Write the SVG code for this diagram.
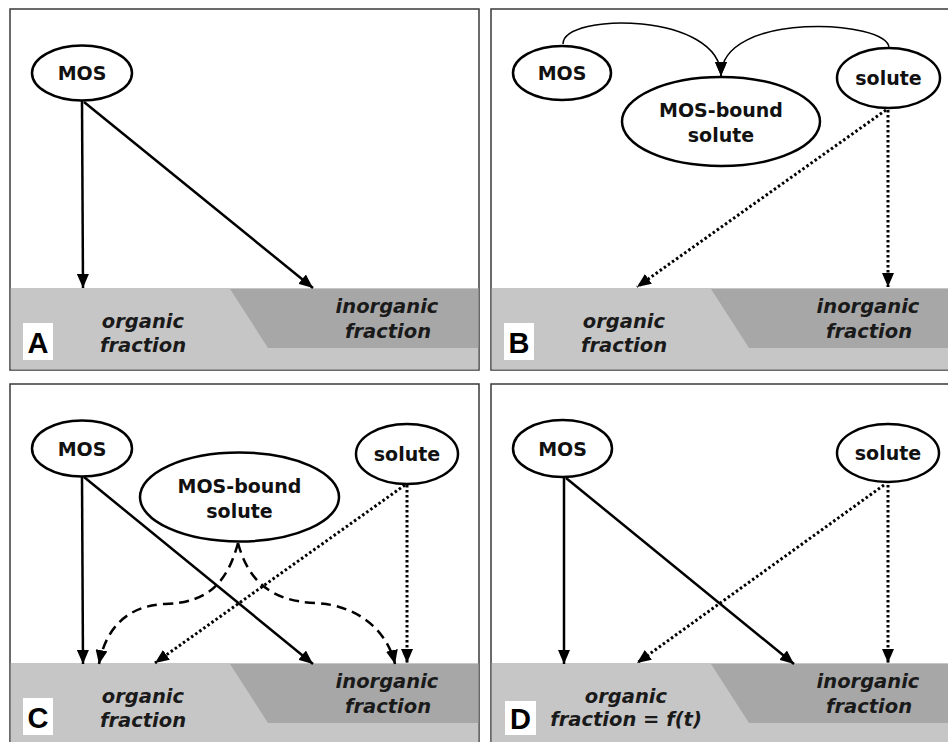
<svg xmlns="http://www.w3.org/2000/svg" width="948" height="742" viewBox="0 0 948 742">
<style>
.frame{fill:#fff;stroke:#3a3a3a;stroke-width:1.5}
.light{fill:#c6c6c6}
.dark{fill:#a7a7a7}
.node ellipse{fill:#fff;stroke:#000;stroke-width:2.5}
.node text{font-family:"DejaVu Sans",Verdana,sans-serif;font-weight:bold;font-size:19px;text-anchor:middle;fill:#111}
.frac{font-family:"DejaVu Sans",Verdana,sans-serif;font-weight:bold;font-style:italic;font-size:19.5px;text-anchor:middle;fill:#1a1a1a}
.lbl rect{fill:#fff}
.lbl text{font-family:"Liberation Sans",Arial,sans-serif;font-weight:bold;font-size:29px;text-anchor:middle;fill:#000}
.solid{fill:none;stroke:#000;stroke-width:2.5;marker-end:url(#ah)}
.dot{fill:none;stroke:#000;stroke-width:3;stroke-dasharray:2.5 2.5;marker-end:url(#ah)}
.dash{fill:none;stroke:#000;stroke-width:2.5;stroke-dasharray:10 6;marker-end:url(#ah)}
.thin{fill:none;stroke:#000;stroke-width:1.5;marker-end:url(#ah)}
</style>
<defs>
<marker id="ah" markerUnits="userSpaceOnUse" markerWidth="14" markerHeight="12" refX="14" refY="6" orient="auto"><path d="M0,0 L14,6 L0,12 z" fill="#000"/></marker>
<g id="base">
<rect class="frame" x="10" y="9" width="469" height="361"/>
<rect class="light" x="10.75" y="288" width="467.5" height="81.5"/>
<polygon class="dark" points="230,289 478.25,289 478.25,348 268,348"/>
<text class="frac" x="387" y="313">inorganic</text>
<text class="frac" x="388" y="338">fraction</text>
</g>
</defs>

<!-- Panel A -->
<g id="panelA">
<use href="#base"/>
<text class="frac" x="143" y="328">organic</text>
<text class="frac" x="143" y="352">fraction</text>
<g id="A-label" class="lbl"><rect x="23" y="323" width="30" height="37"/><text x="38" y="353">A</text></g>
<g id="A-connectors">
<path class="solid" d="M82,101 L83,288"/>
<path class="solid" d="M84,102 L313,288"/>
</g>
<g id="A-MOS" class="node"><ellipse cx="82" cy="73" rx="50" ry="27.5"/><text x="82" y="80">MOS</text></g>
</g>

<!-- Panel B -->
<g id="panelB" transform="translate(481,0)">
<use href="#base"/>
<text class="frac" x="143" y="328">organic</text>
<text class="frac" x="143" y="352">fraction</text>
<g id="B-label" class="lbl"><rect x="23" y="323" width="30" height="37"/><text x="38" y="353">B</text></g>
<g id="B-connectors">
<path class="thin" d="M82,44 C82,12 240,12 240,76"/>
<path class="thin" d="M408,48 C408,20 240,10 240,76"/>
<path class="dot" d="M405,110 L156,287"/>
<path class="dot" d="M407,110 L407,287"/>
</g>
<g id="B-MOS" class="node"><ellipse cx="81" cy="73" rx="49" ry="27"/><text x="81" y="80">MOS</text></g>
<g id="B-bound" class="node"><ellipse cx="240" cy="121.5" rx="99" ry="44.5"/><text x="240" y="117">MOS-bound</text><text x="240" y="142">solute</text></g>
<g id="B-solute" class="node"><ellipse cx="407.5" cy="78" rx="51.5" ry="30"/><text x="407.5" y="85">solute</text></g>
</g>

<!-- Panel C -->
<g id="panelC" transform="translate(0,375)">
<use href="#base"/>
<text class="frac" x="143" y="328">organic</text>
<text class="frac" x="143" y="352">fraction</text>
<g id="C-label" class="lbl"><rect x="23" y="323" width="30" height="37"/><text x="38" y="353">C</text></g>
<g id="C-connectors">
<path class="solid" d="M82,102 L83,289"/>
<path class="solid" d="M84,102 L313,289"/>
<path class="dot" d="M405,110 L155,288"/>
<path class="dot" d="M407,110 L407,288"/>
<path class="dash" d="M238,168 C228,205 210,228 165,229 C120,231 104,262 99,289"/>
<path class="dash" d="M238,168 C248,205 270,226 315,228 C360,230 388,258 395,289"/>
</g>
<g id="C-MOS" class="node"><ellipse cx="82" cy="73.5" rx="50" ry="28"/><text x="82" y="80.5">MOS</text></g>
<g id="C-bound" class="node"><ellipse cx="239.5" cy="122" rx="99.5" ry="44.5"/><text x="239.5" y="117.5">MOS-bound</text><text x="239.5" y="142.5">solute</text></g>
<g id="C-solute" class="node"><ellipse cx="407" cy="79" rx="51" ry="30"/><text x="407" y="86">solute</text></g>
</g>

<!-- Panel D -->
<g id="panelD" transform="translate(481,375)">
<use href="#base"/>
<text class="frac" x="145" y="328">organic</text>
<text class="frac" x="145" y="351">fraction = f(t)</text>
<g id="D-label" class="lbl"><rect x="24" y="326" width="31" height="34"/><text x="39.5" y="354">D</text></g>
<g id="D-connectors">
<path class="solid" d="M83,102 L83,289"/>
<path class="solid" d="M85,103 L313,289"/>
<path class="dot" d="M403,110 L156,288"/>
<path class="dot" d="M407,110 L407,288"/>
</g>
<g id="D-MOS" class="node"><ellipse cx="81.5" cy="73.5" rx="49.5" ry="28.5"/><text x="81.5" y="80.5">MOS</text></g>
<g id="D-solute" class="node"><ellipse cx="407" cy="78" rx="51" ry="29"/><text x="407" y="85">solute</text></g>
</g>
</svg>
